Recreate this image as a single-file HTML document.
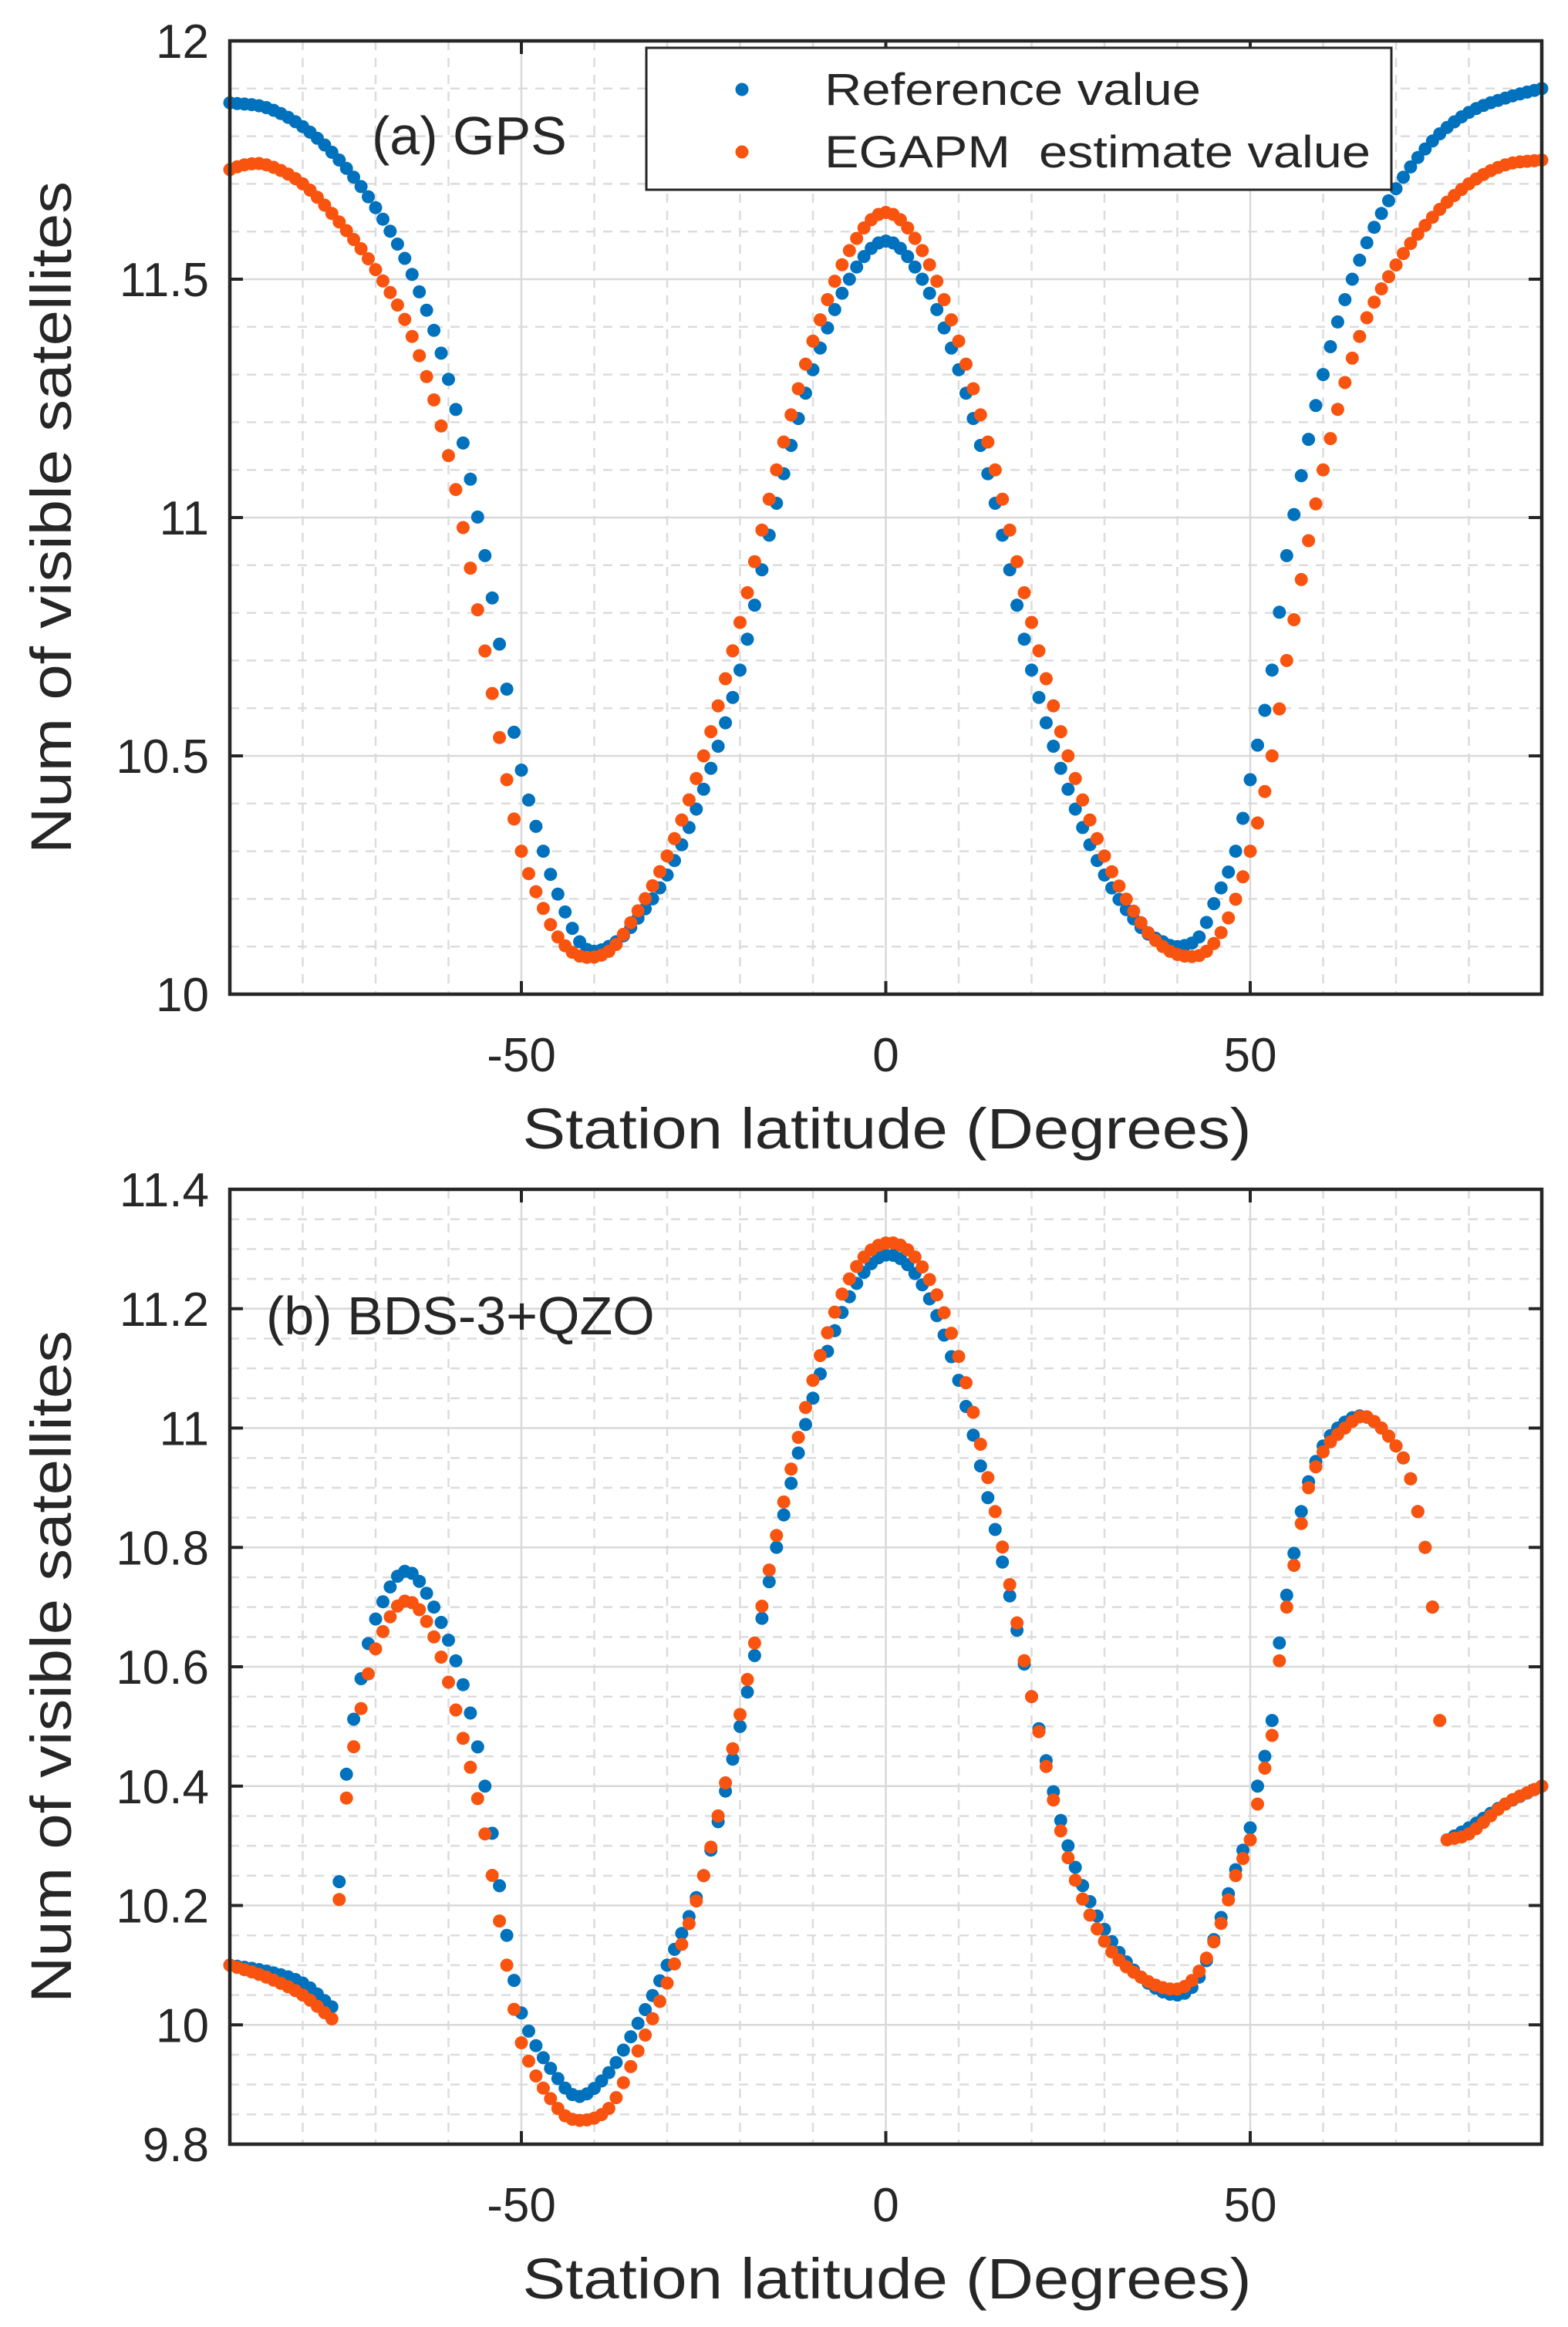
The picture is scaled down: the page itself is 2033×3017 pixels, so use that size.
<!DOCTYPE html>
<html><head><meta charset="utf-8"><style>
html,body{margin:0;padding:0;background:#fff}
svg{display:block}
text{font-family:"Liberation Sans",Arial,sans-serif;fill:#262626}
</style></head><body>
<svg id="s" width="2033" height="3017" xmlns="http://www.w3.org/2000/svg"></svg>
<script>
const S=document.getElementById('s');
let h='';
const L=298,R=1999;
const X=d=>1148.5+(d)*(R-L)/180;
function interp(pts,x){
  for(let i=0;i<pts.length-1;i++){
    const [x0,y0]=pts[i],[x1,y1]=pts[i+1];
    if(x>=x0&&x<=x1){
      const p0=pts[Math.max(0,i-1)],p3=pts[Math.min(pts.length-1,i+2)];
      const t=(x-x0)/(x1-x0);
      const m1=(y1-p0[1])/(x1-p0[0])*(x1-x0), m2=(p3[1]-y0)/(p3[0]-x0)*(x1-x0);
      const t2=t*t,t3=t2*t;
      return (2*t3-3*t2+1)*y0+(t3-2*t2+t)*m1+(-2*t3+3*t2)*y1+(t3-t2)*m2;
    }
  }
  return null;
}
function panel(top,bot,ymin,ymax,major,minor,fmt,label,lx,ly,series){
  const Y=v=>bot-(v-ymin)*(bot-top)/(ymax-ymin);
  for(let d=-90;d<=90;d+=10){ if(d%50!==0) h+=`<line x1="${X(d)}" y1="${top}" x2="${X(d)}" y2="${bot}" stroke="#dcdcdc" stroke-width="2.5" stroke-dasharray="12,10"/>`;}
  const nmin=Math.round((ymax-ymin)/minor);
  for(let i=1;i<nmin;i++){const v=ymin+i*minor; if(Math.abs(((v-ymin)/major)-Math.round((v-ymin)/major))>1e-6) h+=`<line x1="${L}" y1="${Y(v)}" x2="${R}" y2="${Y(v)}" stroke="#dcdcdc" stroke-width="2.5" stroke-dasharray="12,10"/>`;}
  for(const d of [-50,0,50]) h+=`<line x1="${X(d)}" y1="${top}" x2="${X(d)}" y2="${bot}" stroke="#d9d9d9" stroke-width="2.5"/>`;
  const nmaj=Math.round((ymax-ymin)/major);
  for(let i=0;i<=nmaj;i++){const v=ymin+i*major;const y=Y(v);
    h+=`<line x1="${L}" y1="${y}" x2="${R}" y2="${y}" stroke="#d9d9d9" stroke-width="2.5"/>`;
    h+=`<line x1="${L}" y1="${y}" x2="${L+17}" y2="${y}" stroke="#262626" stroke-width="4"/><line x1="${R}" y1="${y}" x2="${R-17}" y2="${y}" stroke="#262626" stroke-width="4"/>`;
    h+=`<text x="${L-27}" y="${y+22}" font-size="62" text-anchor="end">${fmt(v)}</text>`;}
  for(const d of [-50,0,50]){
    h+=`<line x1="${X(d)}" y1="${bot}" x2="${X(d)}" y2="${bot-17}" stroke="#262626" stroke-width="4"/><line x1="${X(d)}" y1="${top}" x2="${X(d)}" y2="${top+17}" stroke="#262626" stroke-width="4"/>`;
    h+=`<text x="${X(d)}" y="${bot+100}" font-size="62" text-anchor="middle">${d}</text>`;}
  for(const s of series){
    for(const seg of s.segs){
      for(let d=seg[0][0];d<=seg[seg.length-1][0]+1e-9;d+=1){
        const v=interp(seg,d); if(v===null)continue;
        h+=`<circle cx="${X(d).toFixed(1)}" cy="${Y(v).toFixed(1)}" r="8.5" fill="${s.c}"/>`;
      }
    }
  }
  h+=`<rect x="${L}" y="${top}" width="${R-L}" height="${bot-top}" fill="none" stroke="#262626" stroke-width="4.5"/>`;
  h+=`<text x="${lx}" y="${ly}" font-size="70">${label}</text>`;
  h+=`<text x="1150" y="${bot+200}" font-size="74" text-anchor="middle" textLength="945" lengthAdjust="spacingAndGlyphs">Station latitude (Degrees)</text>`;
  const cy=(top+bot)/2;
  h+=`<text transform="translate(92,${cy}) rotate(-90)" font-size="74" text-anchor="middle" textLength="872" lengthAdjust="spacingAndGlyphs">Num of visible satellites</text>`;
}
const B='#0072BD',O='#F9540F';
const ablue=[[-90,11.87],[-85,11.86],[-80,11.82],[-75,11.75],[-70,11.65],[-65,11.51],[-60,11.29],[-55,10.92],[-52,10.64],[-50,10.47],[-47,10.3],[-45,10.21],[-42,10.11],[-40,10.09],[-37,10.11],[-35,10.14],[-30,10.25],[-25,10.43],[-20,10.68],[-15,11.03],[-10,11.31],[-5,11.5],[0,11.58],[5,11.5],[10,11.31],[15,11.03],[20,10.68],[25,10.43],[30,10.25],[35,10.14],[38,10.11],[40,10.1],[43,10.12],[45,10.19],[48,10.3],[50,10.45],[53,10.68],[55,10.92],[60,11.3],[65,11.54],[70,11.69],[75,11.79],[80,11.85],[85,11.88],[90,11.9]];
const aor=[[-90,11.73],[-88,11.74],[-85,11.74],[-80,11.7],[-75,11.62],[-70,11.52],[-65,11.38],[-60,11.13],[-55,10.72],[-52,10.45],[-50,10.3],[-47,10.18],[-45,10.12],[-42,10.08],[-38,10.09],[-35,10.15],[-30,10.29],[-25,10.5],[-20,10.78],[-15,11.1],[-10,11.37],[-5,11.56],[0,11.64],[5,11.56],[10,11.37],[15,11.1],[20,10.78],[25,10.5],[30,10.29],[35,10.15],[38,10.1],[41,10.08],[44,10.09],[47,10.16],[50,10.3],[53,10.5],[55,10.7],[60,11.1],[65,11.38],[70,11.53],[75,11.63],[80,11.7],[85,11.74],[90,11.75]];
panel(53,1289,10,12,0.5,0.1,v=>String(+v.toFixed(1)),'(a) GPS',482,200,[{c:B,segs:[ablue]},{c:O,segs:[aor]}]);
const bb1=[[-90,10.1],[-85,10.09],[-80,10.07],[-76,10.03]];
const bb2=[[-75,10.24],[-74,10.42],[-72,10.58],[-70,10.68],[-66,10.76],[-62,10.7],[-58,10.57],[-55,10.4],[-52,10.15],[-50,10.02],[-45,9.91],[-42,9.88],[-38,9.92],[-35,9.98],[-30,10.1],[-25,10.25],[-20,10.5],[-15,10.8],[-10,11.05],[-5,11.22],[0,11.29],[5,11.24],[10,11.08],[15,10.83],[20,10.55],[25,10.3],[30,10.16],[35,10.08],[40,10.05],[43,10.08],[46,10.18],[48,10.26],[50,10.33],[51,10.4],[52,10.45],[53,10.51],[54,10.64],[55,10.72],[56,10.79],[57,10.86],[58,10.91],[60,10.97],[63,11.01],[65.5,11.02],[68,11.0],[70,10.97],[71,10.95],[72,10.915],[73,10.86],[74,10.8],[75,10.7]];
const bb3=[[77,10.31],[80,10.33],[85,10.37],[90,10.4]];
const ob1=[[-90,10.1],[-85,10.08],[-80,10.05],[-76,10.01]];
const ob2=[[-75,10.21],[-74,10.38],[-72,10.53],[-70,10.63],[-66,10.71],[-62,10.65],[-58,10.48],[-55,10.32],[-52,10.1],[-50,9.97],[-45,9.86],[-42,9.84],[-38,9.86],[-35,9.93],[-30,10.07],[-25,10.25],[-20,10.52],[-15,10.82],[-10,11.08],[-5,11.25],[0,11.31],[5,11.27],[10,11.12],[15,10.86],[20,10.55],[25,10.28],[30,10.14],[35,10.08],[40,10.06],[43,10.09],[46,10.17],[48,10.25],[50,10.31],[51,10.37],[52,10.43],[53,10.485],[54,10.61],[55,10.7],[56,10.77],[57,10.84],[58,10.9],[60,10.96],[63,11.0],[65.5,11.02],[68,11.0],[70,10.97],[71,10.95],[72,10.915],[73,10.86],[74,10.8],[75,10.7],[76,10.51]];
const ob3=[[77,10.31],[80,10.32],[85,10.37],[90,10.4]];
panel(1542,2780,9.8,11.4,0.2,0.05,v=>String(+v.toFixed(1)),'(b) BDS-3+QZO',345,1730,[{c:B,segs:[bb1,bb2,bb3]},{c:O,segs:[ob1,ob2,ob3]}]);
h+=`<rect x="838" y="62" width="966" height="184" fill="#fff" stroke="#262626" stroke-width="3"/>`;
h+=`<circle cx="962" cy="116" r="8.5" fill="${B}"/><circle cx="962" cy="197" r="8.5" fill="${O}"/>`;
h+=`<text x="1069" y="136" font-size="58" textLength="488" lengthAdjust="spacingAndGlyphs">Reference value</text>`;
h+=`<text x="1069" y="217" font-size="58" textLength="708" lengthAdjust="spacingAndGlyphs" xml:space="preserve">EGAPM  estimate value</text>`;
S.innerHTML=h;
</script>
</body></html>
